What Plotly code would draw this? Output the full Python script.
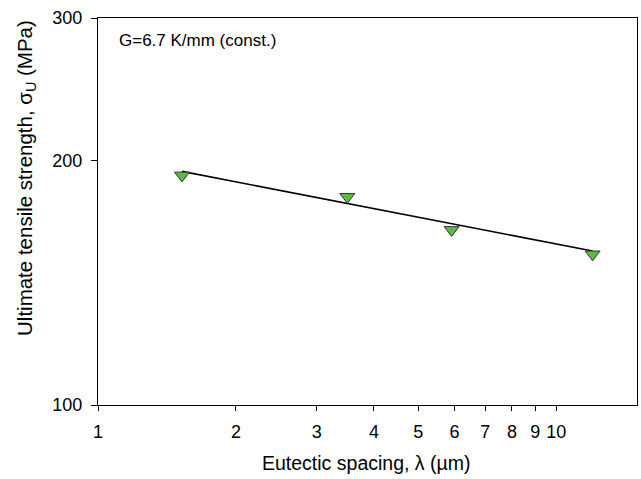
import plotly.graph_objects as go
import math

# Data
spacing = [1.525, 3.50, 5.91, 12.0]          # eutectic spacing, λ (µm)
uts = [191.9, 180.6, 164.4, 153.4]            # ultimate tensile strength (MPa)

# Fitted power-law line endpoints (straight in log-log)
fit_x = [1.525, 12.0]
fit_y = [194.1, 154.8]

x_ticks = [1, 2, 3, 4, 5, 6, 7, 8, 9, 10]
y_ticks = [100, 200, 300]

FONT = "Liberation Sans, Arial, sans-serif"

fig = go.Figure()
fig.add_trace(go.Scatter(x=fit_x, y=fit_y, mode="lines",
                         line=dict(color="black", width=1.6),
                         showlegend=False, hoverinfo="skip"))
fig.add_trace(go.Scatter(x=spacing, y=uts, mode="markers",
                         marker=dict(symbol="triangle-down", size=13,
                                     color="#5DBB3F",
                                     line=dict(color="#333333", width=1)),
                         showlegend=False))

fig.update_xaxes(type="log", range=[0, math.log10(15)],
                 tickvals=x_ticks, ticktext=[str(v) for v in x_ticks],
                 ticks="outside", ticklen=5, tickcolor="black", tickwidth=1,
                 ticklabelstandoff=5,
                 showline=True, linecolor="black", linewidth=1, mirror=True,
                 showgrid=False, zeroline=False,
                 tickfont=dict(family=FONT, size=18, color="black"))
fig.update_yaxes(type="log", range=[2, math.log10(300)],
                 tickvals=y_ticks, ticktext=[str(v) for v in y_ticks],
                 ticks="outside", ticklen=6, tickcolor="black", tickwidth=1,
                 ticklabelstandoff=5,
                 showline=True, linecolor="black", linewidth=1, mirror=True,
                 showgrid=False, zeroline=False,
                 tickfont=dict(family=FONT, size=18, color="black"))

fig.add_annotation(text="G=6.7 K/mm (const.)", xref="paper", yref="paper",
                   x=0.0353, y=0.943, xanchor="left", yanchor="middle",
                   showarrow=False, font=dict(family=FONT, size=17, color="black"))
fig.add_annotation(text="Eutectic spacing, λ (µm)", xref="paper", yref="paper",
                   x=0.498, y=-0.1499, xanchor="center", yanchor="middle",
                   showarrow=False, font=dict(family=FONT, size=19.5, color="black"))
fig.add_annotation(text="Ultimate tensile strength, σ<sub>U</sub> (MPa)",
                   xref="paper", yref="paper", textangle=-90,
                   x=-0.1336, y=0.5866, xanchor="center", yanchor="middle",
                   showarrow=False, font=dict(family=FONT, size=20.5, color="black"))

fig.update_layout(width=641, height=479,
                  margin=dict(l=98, r=4, t=18, b=74),
                  paper_bgcolor="white", plot_bgcolor="white")

fig.write_html("out.html")
